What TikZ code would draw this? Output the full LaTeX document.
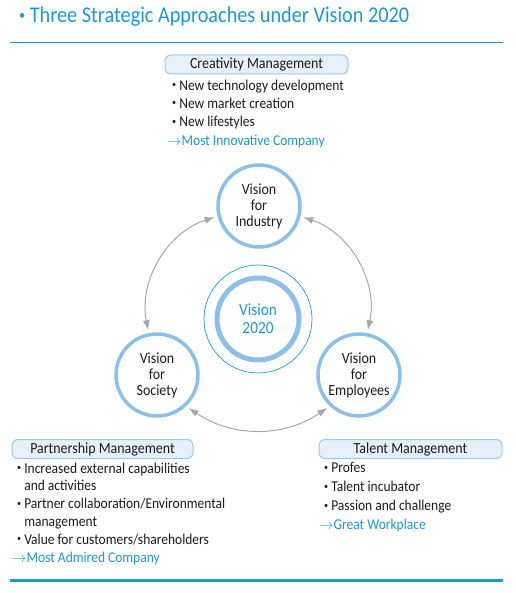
\documentclass[tikz,border=0pt]{standalone}
\usepackage{fontspec}
\setmainfont{Carlito}[FakeStretch=0.9]
\usetikzlibrary{arrows.meta, positioning}

\definecolor{titleblue}{HTML}{1F97D4}
\definecolor{ruleblue}{HTML}{2A8CC8}
\definecolor{ringblue}{HTML}{8CC0E8}
\definecolor{boxfill}{HTML}{E6F0FA}
\definecolor{boxline}{HTML}{9DC8EC}
\definecolor{arcgray}{HTML}{A5A7AA}
\definecolor{bodytext}{HTML}{1E1A1B}

\newcommand{\smallbullet}{\raisebox{0.17em}{\scalebox{0.6}{\textbullet}}}
\newcommand{\itm}{\hspace*{5pt}\smallbullet\ }
\newcommand{\cont}{\hspace*{5pt}\phantom{\smallbullet\ }}
\newcommand{\goal}[1]{\textcolor{titleblue}{$\rightarrow$#1}}

\begin{document}
\begin{tikzpicture}[x=1pt, y=-1pt,
    headbox/.style = {
        rectangle,
        rounded corners = 6pt,
        draw            = boxline,
        fill            = boxfill,
        line width      = 1pt,
        minimum width   = 183pt,
        minimum height  = 19pt,
        inner sep       = 0pt,
        text            = bodytext,
        font            = \fontsize{15.5}{16}\selectfont
    },
    itemlist/.style = {
        anchor    = north west,
        inner sep = 0pt,
        align     = left,
        text      = bodytext,
        font      = \fontsize{15}{18.3}\selectfont
    },
    visioncircle/.style = {
        circle,
        draw          = ringblue,
        line width    = 3.5pt,
        fill          = white,
        minimum size  = 82pt,
        inner sep     = 0pt,
        align         = center,
        text          = bodytext,
        font          = \fontsize{15.5}{16}\selectfont
    },
    twoway/.style = {{Latex[length=10pt, width=7pt]}-{Latex[length=10pt, width=7pt]},
        draw = arcgray, line width = 1pt, shorten <= 3pt, shorten >= 3pt}
]
    \useasboundingbox (0,0) rectangle (515,593);

    % title and rules
    \node[anchor=base west, inner sep=0pt, text=titleblue, font=\fontsize{22.5}{22}\selectfont]
        (title) at (19,23) {\smallbullet\ Three Strategic Approaches under Vision 2020};
    \draw[ruleblue, line width=1pt] (10,43) -- (503,43);
    \draw[titleblue, line width=3pt] (10,580) -- (503,580);

    % centre
    \node[circle, draw=titleblue, line width=0.7pt, minimum size=108pt] (ring) at (258,319) {};
    \node[visioncircle, line width=5pt, text=titleblue, font=\fontsize{17}{18}\selectfont]
        (v2020) at (258,319) {Vision\\2020};

    % three visions
    \node[visioncircle] (ind) at (259,206) {Vision\\for\\Industry};
    \node[visioncircle] (soc) at (157,375) {Vision\\for\\Society};
    \node[visioncircle] (emp) at (359,375) {Vision\\for\\Employees};

    \draw[twoway] (ind.194) to[bend right=42] (soc.101);
    \draw[twoway] (ind.-14) to[bend left=42] (emp.79);
    \draw[twoway] (soc.-47) to[bend right=34] (emp.-133);

    % management approaches
    \node[headbox] (crea) at (256.5,64.5) {Creativity Management};
    \node[itemlist] (crealist) at (167,79.5) {
        \itm New technology development\\
        \itm New market creation\\
        \itm New lifestyles\\
        \goal{Most Innovative Company}};

    \node[headbox, minimum width=181pt] (part) at (102.5,449) {Partnership Management};
    \node[itemlist, font=\fontsize{15}{17.8}\selectfont] (partlist) at (12,462.5) {
        \itm Increased external capabilities\\
        \cont and activities\\
        \itm Partner collaboration/Environmental\\
        \cont management\\
        \itm Value for customers/shareholders\\
        \goal{Most Admired Company}};

    \node[headbox] (tal) at (410.5,449) {Talent Management};
    \node[itemlist, font=\fontsize{15}{19}\selectfont] (tallist) at (319,462.5) {
        \itm Profes\\
        \itm Talent incubator\\
        \itm Passion and challenge\\
        \goal{Great Workplace}};
\end{tikzpicture}
\end{document}
